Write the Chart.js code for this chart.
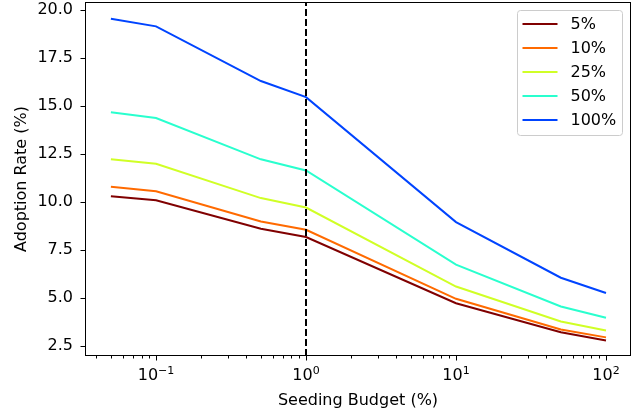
<!DOCTYPE html>
<html><head><meta charset="utf-8">
<script src="https://cdn.jsdelivr.net/npm/chart.js@4"></script>
<style>html,body{margin:0;padding:0;background:#fff;}#wrap{width:644px;height:417px;}</style>
</head><body><div id="wrap"><canvas id="c" width="644" height="417"></canvas></div>
<script>
const xValues = [0.05, 0.1, 0.5, 1, 10, 50, 100];
const seriesLabels = ['5%', '10%', '25%', '50%', '100%'];
const s5 = [10.30, 10.09, 8.60, 8.17, 4.72, 3.21, 2.78];
const s10 = [10.79, 10.56, 8.98, 8.55, 4.95, 3.35, 2.94];
const s25 = [12.23, 11.99, 10.20, 9.71, 5.59, 3.77, 3.30];
const s50 = [14.67, 14.37, 12.22, 11.64, 6.73, 4.55, 3.96];
const s100 = [19.55, 19.15, 16.30, 15.46, 8.95, 6.05, 5.25];
const seriesValues = [s5, s10, s25, s50, s100];
const seriesColors = ['#800000', '#ff6a00', '#d0ff26', '#29ffce', '#0044ff'];
const yTicks = [2.5, 5, 7.5, 10, 12.5, 15, 17.5, 20];
const xMajorTicks = [0.1, 1, 10, 100];
const xMajorBase = ['10', '10', '10', '10'];
const xMajorExp = ['−1', '0', '1', '2'];
const xMinorTicks = [0.04, 0.05, 0.06, 0.07, 0.08, 0.09,
  0.2, 0.3, 0.4, 0.5, 0.6, 0.7, 0.8, 0.9,
  2, 3, 4, 5, 6, 7, 8, 9,
  20, 30, 40, 50, 60, 70, 80, 90];
const budgetLine = 1;
const xRange = [0.0336, 146.8];
const yRange = [1.97, 20.42];

const FONT = 'DejaVu Sans';
const FS = 16;

const datasets = seriesLabels.map((lab, i) => ({
  label: lab,
  data: xValues.map((x, j) => ({x: x, y: seriesValues[i][j]})),
  borderColor: seriesColors[i],
  backgroundColor: seriesColors[i],
  borderWidth: 2,
  pointRadius: 0,
  tension: 0,
  fill: false
}));

const framePlugin = {
  id: 'frame',
  afterDatasetsDraw(chart) {
    const ctx = chart.ctx;
    const a = chart.chartArea;
    const xs = chart.scales.x;
    const px = Math.round(xs.getPixelForValue(budgetLine));
    ctx.save();
    ctx.strokeStyle = '#000';
    ctx.lineWidth = 2;
    ctx.setLineDash([7, 3]);
    ctx.beginPath();
    ctx.moveTo(px, a.bottom);
    ctx.lineTo(px, a.top);
    ctx.stroke();
    ctx.restore();
  },
  afterDraw(chart) {
    const ctx = chart.ctx;
    const a = chart.chartArea;
    const xs = chart.scales.x, ys = chart.scales.y;
    ctx.save();
    ctx.strokeStyle = '#000';
    ctx.lineWidth = 1;
    const L = Math.round(a.left) + 0.5, R = Math.round(a.right) - 0.5;
    const T = Math.round(a.top) + 0.5, B = Math.round(a.bottom) - 0.5;
    ctx.strokeRect(L, T, R - L, B - T);
    ys.ticks.forEach(t => {
      const py = Math.round(ys.getPixelForValue(t.value)) + 0.5;
      ctx.beginPath(); ctx.moveTo(L, py); ctx.lineTo(L - 5, py); ctx.stroke();
    });
    xs.ticks.forEach(t => {
      const major = xMajorTicks.includes(t.value);
      const p = Math.round(xs.getPixelForValue(t.value)) + 0.5;
      ctx.beginPath(); ctx.moveTo(p, B); ctx.lineTo(p, B + (major ? 5 : 3)); ctx.stroke();
    });
    // x major labels with superscript exponents
    ctx.fillStyle = '#000';
    ctx.textBaseline = 'alphabetic';
    ctx.textAlign = 'left';
    xMajorTicks.forEach((v, k) => {
      const p = xs.getPixelForValue(v);
      ctx.font = FS + 'px "' + FONT + '"';
      const wb = ctx.measureText(xMajorBase[k]).width;
      ctx.font = Math.round(FS * 0.7) + 'px "' + FONT + '"';
      const we = ctx.measureText(xMajorExp[k]).width;
      const x0 = p - (wb + we) / 2;
      const base = B + 24;
      ctx.font = FS + 'px "' + FONT + '"';
      ctx.fillText(xMajorBase[k], x0, base);
      ctx.font = Math.round(FS * 0.7) + 'px "' + FONT + '"';
      ctx.fillText(xMajorExp[k], x0 + wb, base - 6);
    });
    // legend
    const bw = 105, bh = 125;
    const bx = Math.round(a.right) - 9 - bw + 0.5, by = Math.round(a.top) + 8 + 0.5;
    ctx.fillStyle = 'rgba(255,255,255,0.8)';
    ctx.strokeStyle = '#cccccc';
    ctx.lineWidth = 1;
    ctx.beginPath();
    if (ctx.roundRect) ctx.roundRect(bx, by, bw, bh, 3); else ctx.rect(bx, by, bw, bh);
    ctx.fill(); ctx.stroke();
    ctx.font = FS + 'px "' + FONT + '"';
    ctx.textBaseline = 'middle';
    ctx.textAlign = 'left';
    chart.data.datasets.forEach((ds, i) => {
      const cy = Math.round(by + 13 + 24 * i);
      ctx.strokeStyle = ds.borderColor;
      ctx.lineWidth = 2;
      ctx.beginPath(); ctx.moveTo(bx + 5, cy); ctx.lineTo(bx + 40, cy); ctx.stroke();
      ctx.fillStyle = '#000';
      ctx.fillText(ds.label, bx + 53, cy + 1);
    });
    ctx.restore();
  }
};

new Chart(document.getElementById('c'), {
  type: 'line',
  data: {datasets: datasets},
  options: {
    responsive: false,
    devicePixelRatio: 1,
    animation: false,
    events: [],
    layout: {padding: {left: 0, right: 13, top: 2, bottom: 0}},
    plugins: {legend: {display: false}, tooltip: {enabled: false}},
    scales: {
      x: {
        type: 'logarithmic',
        min: xRange[0], max: xRange[1],
        afterBuildTicks: (s) => {
          s.ticks = xMinorTicks.concat(xMajorTicks).sort((p, q) => p - q).map(v => ({value: v}));
        },
        afterFit: (s) => { s.height = 61; s.paddingLeft = 0; s.paddingRight = 0; },
        grid: {display: false, drawTicks: false},
        border: {display: false},
        ticks: {
          autoSkip: false, maxRotation: 0, minRotation: 0, padding: 9,
          color: '#000', font: {family: FONT, size: FS},
          callback: () => ''
        },
        title: {display: true, text: 'Seeding Budget (%)', color: '#000',
          font: {family: FONT, size: FS}, padding: {top: 0, bottom: 7}}
      },
      y: {
        type: 'linear',
        min: yRange[0], max: yRange[1],
        afterBuildTicks: (s) => { s.ticks = yTicks.map(v => ({value: v})); },
        afterFit: (s) => { s.width = 85; s.paddingTop = 0; s.paddingBottom = 0; },
        grid: {display: false, drawTicks: false},
        border: {display: false},
        ticks: {
          autoSkip: false, padding: 12, color: '#000', font: {family: FONT, size: FS},
          callback: (v) => Number(v).toFixed(1)
        },
        title: {display: true, text: 'Adoption Rate (%)', color: '#000',
          font: {family: FONT, size: FS}, padding: {top: 12, bottom: 0}}
      }
    }
  },
  plugins: [framePlugin]
});
</script></body></html>
